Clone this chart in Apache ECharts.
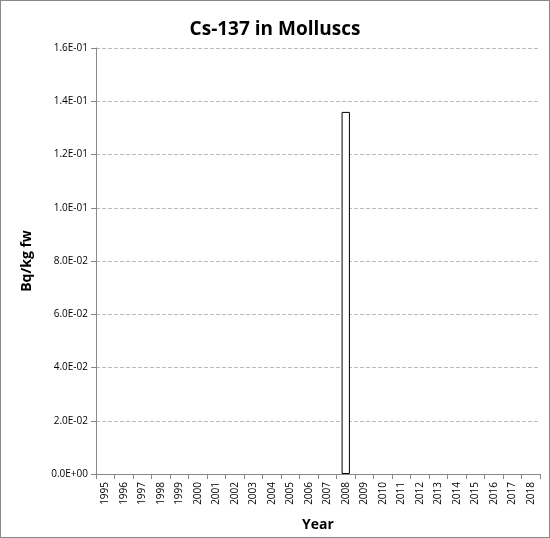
<!DOCTYPE html>
<html><head><meta charset="utf-8">
<script src="https://cdn.jsdelivr.net/npm/echarts@6/dist/echarts.min.js"></script>
<style>html,body{margin:0;padding:0}#c{width:548px;height:536px;border:1px solid #888}</style>
</head><body><div id="c"></div>
<script>
const years = ['1995','1996','1997','1998','1999','2000','2001','2002','2003','2004','2005','2006','2007','2008','2009','2010','2011','2012','2013','2014','2015','2016','2017','2018'];
const values = [null,null,null,null,null,null,null,null,null,null,null,null,null,0.136,null,null,null,null,null,null,null,null,null,null];
function fmt(v){ if(v===0) return '0.0E+00'; const e=Math.floor(Math.log10(Math.abs(v))+1e-9); const m=v/Math.pow(10,e); const s=e<0?'-':'+'; return m.toFixed(1)+'E'+s+String(Math.abs(e)).padStart(2,'0'); }
const ch = echarts.init(document.getElementById('c'));
ch.setOption({
  animation:false,
  title:{text:'Cs-137 in Molluscs',left:'center',top:14,textStyle:{fontFamily:'Open Sans',fontWeight:'bold',fontSize:19,color:'#000'}},
  grid:{left:95,right:9,top:47,bottom:62},
  xAxis:{type:'category',data:years,name:'Year',nameLocation:'middle',nameGap:44,
    nameTextStyle:{fontFamily:'Open Sans',fontWeight:'bold',fontSize:14,color:'#000'},
    axisLine:{lineStyle:{color:'#888'}},axisTick:{show:true,alignWithLabel:false,lineStyle:{color:'#888'}},
    axisLabel:{rotate:90,interval:0,fontFamily:'Open Sans',fontSize:10,color:'#000'},splitLine:{show:false}},
  yAxis:{type:'value',min:0,max:0.16,interval:0.02,name:'Bq/kg fw',nameLocation:'middle',nameGap:62,
    nameTextStyle:{fontFamily:'Open Sans',fontWeight:'bold',fontSize:14,color:'#000'},
    axisLine:{show:true,lineStyle:{color:'#888'}},axisTick:{show:true,lineStyle:{color:'#888'}},
    axisLabel:{formatter:fmt,fontFamily:'Open Sans',fontSize:10,color:'#000'},
    splitLine:{lineStyle:{type:'dashed',color:'#bbb'}}},
  series:[{type:'bar',data:values,barWidth:'45%',itemStyle:{color:'#fff',borderColor:'#000',borderWidth:1}}]
});
</script></body></html>
